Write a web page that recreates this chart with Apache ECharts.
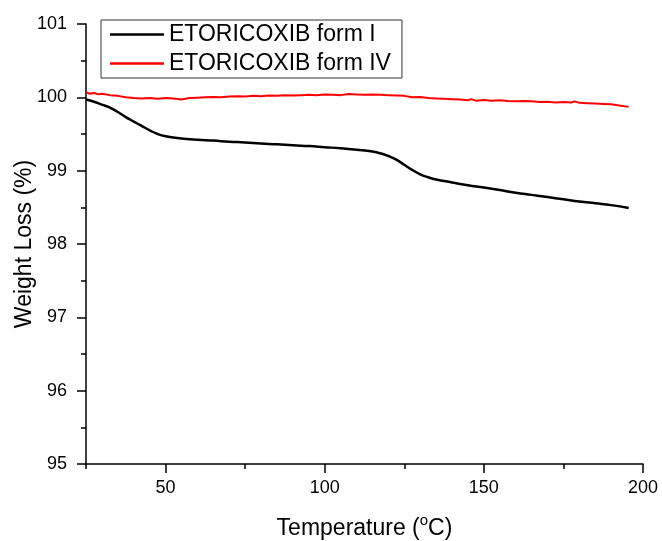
<!DOCTYPE html>
<html>
<head>
<meta charset="utf-8">
<script src="https://cdn.jsdelivr.net/npm/echarts@6/dist/echarts.min.js"></script>
<style>html,body{margin:0;padding:0;background:#fff;}#c{width:662px;height:541px;}</style>
</head>
<body>
<div id="c"></div>
<script>
var seriesNames = ['ETORICOXIB form I', 'ETORICOXIB form IV'];

var formITemp = [25, 27.5, 30, 32.5, 35, 37.5, 40, 42.5, 45, 47.5, 50, 55, 60, 65, 70, 75, 80, 85, 90, 95, 100, 105, 110, 115, 118, 120, 122.5, 125, 127.5, 130, 132.5, 135, 140, 145, 150, 155, 160, 165, 170, 175, 180, 185, 190, 195.5];
var formIWeight = [99.97, 99.94, 99.90, 99.86, 99.80, 99.73, 99.67, 99.61, 99.55, 99.50, 99.47, 99.44, 99.42, 99.41, 99.395, 99.385, 99.37, 99.36, 99.345, 99.335, 99.32, 99.305, 99.285, 99.26, 99.23, 99.20, 99.15, 99.08, 99.01, 98.95, 98.91, 98.88, 98.84, 98.80, 98.77, 98.735, 98.70, 98.67, 98.64, 98.61, 98.58, 98.555, 98.53, 98.49];

var formIVTemp = [25, 26, 27.5, 29, 30, 32.5, 35, 37.5, 40, 42.5, 45, 47.5, 50, 52.5, 55, 57.5, 60, 62.5, 65, 67.5, 70, 72.5, 75, 77.5, 80, 82.5, 85, 87.5, 90, 92.5, 95, 97.5, 100, 102.5, 105, 107.5, 110, 112.5, 115, 117.5, 120, 122.5, 125, 127.5, 130, 132.5, 135, 137.5, 140, 142.5, 145, 146, 147.5, 150, 152.5, 155, 157.5, 160, 162.5, 165, 167.5, 170, 172.5, 175, 177.5, 178.5, 180, 182.5, 185, 187.5, 190, 192.5, 195.5];
var formIVWeight = [100.07, 100.05, 100.06, 100.04, 100.05, 100.03, 100.02, 100.00, 99.99, 99.985, 99.99, 99.98, 99.99, 99.985, 99.97, 99.99, 99.995, 100.0, 100.005, 100.0, 100.01, 100.015, 100.01, 100.02, 100.015, 100.025, 100.02, 100.03, 100.025, 100.03, 100.035, 100.03, 100.04, 100.035, 100.03, 100.045, 100.04, 100.035, 100.04, 100.035, 100.03, 100.025, 100.02, 100.0, 100.005, 99.99, 99.985, 99.98, 99.975, 99.97, 99.96, 99.975, 99.955, 99.965, 99.955, 99.96, 99.95, 99.945, 99.95, 99.945, 99.935, 99.94, 99.93, 99.935, 99.93, 99.945, 99.925, 99.92, 99.915, 99.91, 99.905, 99.89, 99.87];

var xMajorTicks = [50, 100, 150, 200];
var xMinorTicks = [25, 75, 125, 175];
var yRange = [95, 101];

function pairs(xs, ys) { return xs.map(function (x, i) { return [x, ys[i]]; }); }

var font = "'Liberation Sans', Arial, sans-serif";
var chart = echarts.init(document.getElementById('c'));
chart.setOption({
  backgroundColor: '#fff',
  animation: false,
  textStyle: { fontFamily: font, color: '#000' },
  grid: { left: 86, right: 19, top: 24, bottom: 77, containLabel: false, outerBoundsMode: 'none' },
  legend: {
    orient: 'vertical', left: 101, top: 20,
    padding: [3, 11, 3, 9],
    icon: 'rect',
    itemWidth: 54, itemHeight: 2.5, itemGap: 6,
    borderColor: '#333', borderWidth: 1,
    textStyle: { fontSize: 23, color: '#000', fontFamily: font, lineHeight: 23 },
    data: seriesNames
  },
  xAxis: [{
    type: 'value', min: 25, max: 200, interval: 25,
    splitLine: { show: false },
    axisLine: { lineStyle: { color: '#000', width: 1.5 } },
    axisTick: { length: 9, lineStyle: { color: '#000', width: 1.5 }, customValues: xMajorTicks },
    axisLabel: { fontSize: 18, color: '#000', margin: 15, customValues: xMajorTicks, fontFamily: font },
    name: 'Temperature ({sup|o}C)', nameLocation: 'middle', nameGap: 49, nameMoveOverlap: false,
    nameTextStyle: { fontSize: 23, color: '#000', fontFamily: font,
      rich: { sup: { fontSize: 15, padding: [0, 0, 16, 0], color: '#000', fontFamily: font } } }
  }, {
    type: 'value', min: 25, max: 200, position: 'bottom',
    splitLine: { show: false },
    axisLine: { show: false },
    axisTick: { show: true, length: 5, lineStyle: { color: '#000', width: 1.5 }, customValues: xMinorTicks },
    axisLabel: { show: false }
  }],
  yAxis: {
    type: 'value', min: yRange[0], max: yRange[1], interval: 1,
    splitLine: { show: false },
    axisLine: { show: true, lineStyle: { color: '#000', width: 1.5 } },
    axisTick: { show: true, length: 9, lineStyle: { color: '#000', width: 1.5 } },
    minorTick: { show: true, splitNumber: 2, length: 5, lineStyle: { color: '#000', width: 1.5 } },
    axisLabel: { fontSize: 18, color: '#000', margin: 19, fontFamily: font },
    name: 'Weight Loss (%)', nameLocation: 'middle', nameGap: 50, nameMoveOverlap: false,
    nameTextStyle: { fontSize: 23, color: '#000', fontFamily: font }
  },
  series: [{
    name: seriesNames[0], type: 'line', xAxisIndex: 0, symbol: 'none', smooth: true,
    lineStyle: { color: '#000', width: 2.5 }, itemStyle: { color: '#000' },
    data: pairs(formITemp, formIWeight)
  }, {
    name: seriesNames[1], type: 'line', xAxisIndex: 0, symbol: 'none', smooth: false,
    lineStyle: { color: '#ff0000', width: 2 }, itemStyle: { color: '#ff0000' },
    data: pairs(formIVTemp, formIVWeight)
  }]
});
</script>
</body>
</html>
